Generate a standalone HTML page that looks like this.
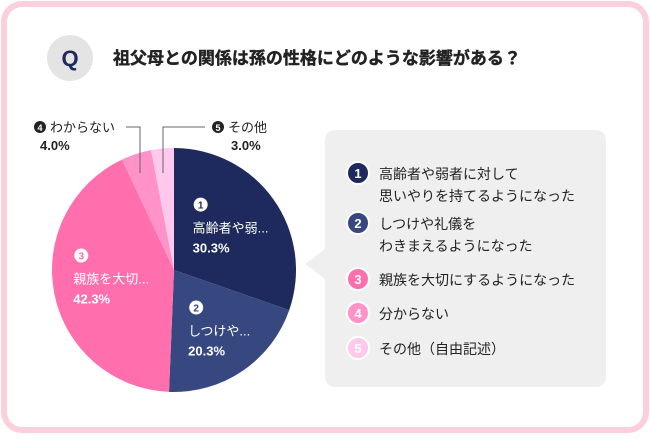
<!DOCTYPE html>
<html><head><meta charset="utf-8"><style>
body{margin:0;width:650px;height:434px;background:#fff;overflow:hidden;font-family:"Liberation Sans","Noto Sans CJK JP",sans-serif;}
</style></head><body>
<svg width="650" height="434" xmlns="http://www.w3.org/2000/svg" font-family="Liberation Sans, Noto Sans CJK JP, sans-serif">
<rect x="4" y="4" width="642" height="426" rx="18" fill="#fff" stroke="#fbd0dc" stroke-width="6"/>
<circle cx="70" cy="58" r="23" fill="#e4e4e4"/>
<text x="70" y="66" text-anchor="middle" font-size="22" font-weight="bold" fill="#1e2a5e">Q</text>
<text x="113" y="64" font-size="17" font-weight="bold" fill="#222" stroke="#222" stroke-width="0.4">祖父母との関係は孫の性格にどのような影響がある？</text>
<path d="M325 140 a10 10 0 0 1 10 -10 h261 a10 10 0 0 1 10 10 v237 a10 10 0 0 1 -10 10 h-261 a10 10 0 0 1 -10 -10 v-98 l-20 -15 l20 -15 z" fill="#efefef"/>
<g id="pie"></g>
<g id="legend"></g>
<polyline points="126,127 140,127 140,173" fill="none" stroke="#666" stroke-width="1"/>
<polyline points="205,127 163,127 163,173" fill="none" stroke="#666" stroke-width="1"/>
<circle cx="40" cy="127" r="6" fill="#222"/>
<text x="40" y="131" text-anchor="middle" font-size="9" font-weight="bold" fill="#fff">4</text>
<text x="50" y="132" font-size="13" fill="#222">わからない</text>
<text x="40" y="150" font-size="13" font-weight="bold" fill="#222">4.0%</text>
<circle cx="218" cy="127" r="6" fill="#222"/>
<text x="218" y="131" text-anchor="middle" font-size="9" font-weight="bold" fill="#fff">5</text>
<text x="228" y="132" font-size="13" fill="#222">その他</text>
<text x="231" y="150" font-size="13" font-weight="bold" fill="#222">3.0%</text>
</svg>
<script>
const categories=["高齢者や弱者に対して思いやりを持てるようになった","しつけや礼儀をわきまえるようになった","親族を大切にするようになった","分からない","その他（自由記述）"];
const values=[30.3,20.3,42.3,4.0,3.0];
const shortLabels=["高齢者や弱...","しつけや...","親族を大切...","",""];
const valueLabels=["30.3%","20.3%","42.3%","4.0%","3.0%"];
const colors=["#1e2a5e","#36487f","#ff6fae","#ff92c8","#ffc8ec"];
const legendLines=[["高齢者や弱者に対して","思いやりを持てるようになった"],["しつけや礼儀を","わきまえるようになった"],["親族を大切にするようになった"],["分からない"],["その他（自由記述）"]];
const NS="http://www.w3.org/2000/svg";
const cx=174,cy=270,R=122;
const offX=[-41,-27,-29],offY=[-23,-23,-29];
const total=values.reduce((a,b)=>a+b,0);
const pie=document.getElementById('pie');
function pt(a,r){return [cx+r*Math.sin(a),cy-r*Math.cos(a)];}
let a0=0;
values.forEach((v,i)=>{
 const a1=a0+v/total*2*Math.PI;
 const p0=pt(a0,R),p1=pt(a1,R);
 const path=document.createElementNS(NS,'path');
 path.setAttribute('d',`M${cx},${cy} L${p0[0]},${p0[1]} A${R},${R} 0 ${a1-a0>Math.PI?1:0} 1 ${p1[0]},${p1[1]} Z`);
 path.setAttribute('fill',colors[i]);
 
 
 pie.appendChild(path);
 if(shortLabels[i]){
  const am=(a0+a1)/2;const c=pt(am,R*0.6);
  const x=c[0]+offX[i],y=c[1]+offY[i];
  const g=document.createElementNS(NS,'g');
  
  
  g.innerHTML=`<circle cx="${x+8}" cy="${y}" r="7" fill="#fff"/><text x="${x+8}" y="${y+4}" text-anchor="middle" font-size="10" font-weight="bold" fill="${colors[i]}">${i+1}</text><text x="${x}" y="${y+28}" font-size="13" fill="#fff">${shortLabels[i]}</text><text x="${x}" y="${y+48}" font-size="13" font-weight="bold" fill="#fff">${valueLabels[i]}</text>`;
  pie.appendChild(g);
 }
 a0=a1;
});
const lg=document.getElementById('legend');
const ys=[173,223,279,313,348];
legendLines.forEach((ls,i)=>{
 const g=document.createElementNS(NS,'g');
 
 
 let h=`<circle cx="358" cy="${ys[i]}" r="11" fill="${colors[i]}" stroke="#fff" stroke-width="2"/><text x="358" y="${ys[i]+5}" text-anchor="middle" font-size="13" font-weight="bold" fill="#fff">${i+1}</text>`;
 ls.forEach((l,j)=>{h+=`<text x="379" y="${ys[i]+6+j*22}" font-size="14" fill="#222">${l}</text>`;});
 g.innerHTML=h;lg.appendChild(g);
});
</script>
</body></html>
